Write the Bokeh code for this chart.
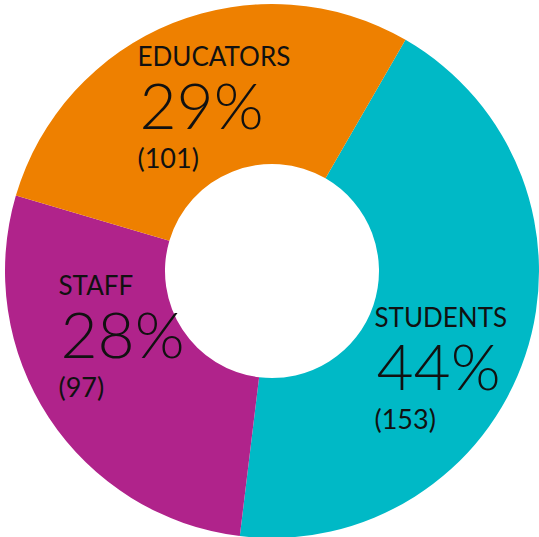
import math
from bokeh.plotting import figure
from bokeh.models import Range1d, ColumnDataSource
from bokeh.core.properties import value
from bokeh.embed import file_html
from bokeh.resources import INLINE

# ---- data ----
categories = ["STUDENTS", "STAFF", "EDUCATORS"]
counts = [153, 97, 101]
colors = ["#00B9C6", "#B0238B", "#EE8000"]

# ---- layout (pixels, top-down) ----
W, H = 539, 537
center_x, center_y = 271.5, 270.5
r_inner, r_outer = 107, 267
start_deg = 60
label_x = [374, 58, 137]
label_base = [328, 296, 67]
pct_dy, count_dy = 63, 103
# empirical baseline corrections for the renderer
label_fix, pct_fix, count_fix = 12, 26, 13

total = sum(counts)
ends, starts = [], []
a = math.radians(start_deg)
for c in counts:
    span = 2 * math.pi * c / total
    ends.append(a)
    starts.append(a - span)
    a -= span

pcts = [f"{round(100 * c / total)}%" for c in counts]
cnts = [f"({c})" for c in counts]

p = figure(width=W, height=H, x_range=Range1d(0, W), y_range=Range1d(0, H),
           output_backend="svg", toolbar_location=None, min_border=0)
p.axis.visible = False
p.grid.visible = False
p.outline_line_color = None
p.background_fill_color = "white"
p.border_fill_color = "white"

src = ColumnDataSource(dict(x=[center_x] * len(counts), y=[H - center_y] * len(counts),
                            start=starts, end=ends, color=colors, cat=categories))
p.annular_wedge(x="x", y="y", inner_radius=r_inner, outer_radius=r_outer,
                start_angle="start", end_angle="end", fill_color="color",
                line_color=None, source=src)

ys_label = [H - b + label_fix for b in label_base]
ys_pct = [H - b - pct_dy + pct_fix for b in label_base]
ys_cnt = [H - b - count_dy + count_fix for b in label_base]

p.text(x=label_x, y=ys_label, text=categories, text_font=value("Lato"),
       text_font_size="26px", text_baseline="alphabetic", text_color="#111111")
p.text(x=[x + 2 for x in label_x], y=ys_pct, text=pcts, text_font=value("Lato Light"),
       text_font_size="64px", text_baseline="alphabetic", text_color="#111111")
p.text(x=label_x, y=ys_cnt, text=cnts, text_font=value("Lato"),
       text_font_size="27px", text_baseline="alphabetic", text_color="#111111")

open("out.html", "w").write(file_html(p, INLINE))
